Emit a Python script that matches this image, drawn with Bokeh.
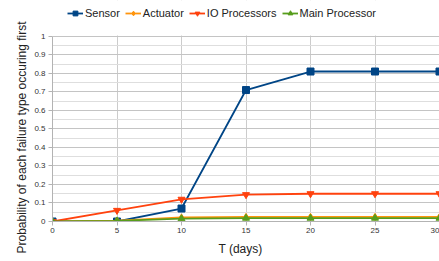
from bokeh.plotting import figure
from bokeh.models import Range1d, Legend, LegendItem, FixedTicker, Title, BoxAnnotation
from bokeh.embed import file_html
from bokeh.resources import INLINE

days = [0, 5, 10, 15, 20, 25, 30]
sensor = [0.0, 0.0, 0.07, 0.71, 0.81, 0.81, 0.81]
actuator = [0.0, 0.005, 0.022, 0.025, 0.025, 0.025, 0.025]
io_proc = [0.0, 0.06, 0.12, 0.145, 0.15, 0.15, 0.15]
main_proc = [0.0, 0.003, 0.015, 0.018, 0.018, 0.018, 0.018]
y_ticks = [0, 0.1, 0.2, 0.3, 0.4, 0.5, 0.6, 0.7, 0.8, 0.9, 1.0]
y_minor = [0.05, 0.15, 0.25, 0.35, 0.45, 0.55, 0.65, 0.75, 0.85, 0.95]

series = [
    ("Sensor", sensor, "#004586", "square"),
    ("Actuator", actuator, "#ff950e", "diamond"),
    ("IO Processors", io_proc, "#ff420e", "inverted_triangle"),
    ("Main Processor", main_proc, "#579d1c", "triangle"),
]

FONT = "Liberation Sans"
TOP_EXTRA = 36 / 186.0  # room above y=1 for the legend (inside the frame)

p = figure(width=439, height=261, output_backend="svg", toolbar_location=None,
           x_range=Range1d(0, 30), y_range=Range1d(0, 1 + TOP_EXTRA),
           min_border_left=52, min_border_right=0, min_border_top=0, min_border_bottom=40)
p.outline_line_color = None

p.xaxis.ticker = FixedTicker(ticks=days)
p.yaxis.ticker = FixedTicker(ticks=y_ticks, minor_ticks=y_minor)
p.yaxis.bounds = (0, 1)

for ax in (p.xaxis, p.yaxis):
    ax.axis_line_color = "#b3b3b3"
    ax.major_tick_line_color = "#b3b3b3"
    ax.minor_tick_line_color = None
    ax.major_tick_in = 0
    ax.major_tick_out = 4
    ax.major_label_text_font = FONT
    ax.major_label_text_font_size = "8px"
    ax.major_label_text_color = "#333333"

p.xaxis.major_label_standoff = 2
p.yaxis.major_label_standoff = 3

p.xgrid.grid_line_color = "#cccccc"
p.ygrid.grid_line_color = "#c4c4c4"
p.ygrid.minor_grid_line_color = "#dedede"

xt = Title(text="T (days)", align="left", offset=166, text_font=FONT,
           text_font_size="12px", text_font_style="normal", text_color="#222222",
           standoff=8)
p.add_layout(xt, "below")

yt = Title(text="Probability of each failure type occuring first", align="left",
           offset=-32, text_font=FONT, text_font_size="12px", text_font_style="normal",
           text_color="#222222", standoff=6)
p.add_layout(yt, "left")

spacer = Title(text=".", text_font_size="6px", standoff=1, text_color="white")
p.add_layout(spacer, "left")

items = []
for name, vals, color, marker in series:
    r1 = p.line(days, vals, line_color=color, line_width=1.8)
    r2 = p.scatter(days, vals, marker=marker, size=7, fill_color=color, line_color=color)
    items.append(LegendItem(label=name, renderers=[r1, r2]))

cover = BoxAnnotation(bottom=1.004, fill_color="white", fill_alpha=1.0, line_color=None)
p.add_layout(cover)

legend = Legend(items=items, orientation="horizontal", location=(15, 202),
                label_text_font=FONT, label_text_font_size="11px",
                label_text_color="#222222", glyph_width=16, glyph_height=12,
                spacing=5, padding=2, margin=0, label_standoff=2,
                border_line_color=None, background_fill_alpha=0)
p.add_layout(legend)

open("out.html", "w").write(file_html(p, INLINE))
